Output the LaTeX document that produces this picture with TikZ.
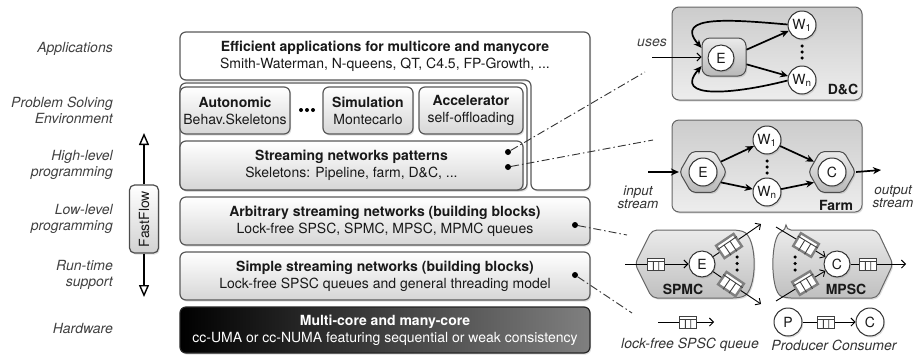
\documentclass[tikz,border=0pt]{standalone}
\usepackage{fontspec}
\setmainfont{TeX Gyre Heros}
\usetikzlibrary{arrows.meta,shapes.geometric,shadows,calc}
\newcommand\qlines[1]{%
  \draw[qline] ($(#1.north west)!0.3!(#1.south west)$) -- ($(#1.north east)!0.3!(#1.south east)$);
  \foreach \f in {0.35,0.65}{%
    \draw[qline] ($($(#1.north west)!\f!(#1.north east)$)!0.3!($(#1.south west)!\f!(#1.south east)$)$) -- ($(#1.south west)!\f!(#1.south east)$);}%
}
\tikzset{
 shad/.style={drop shadow={opacity=0.25,shadow xshift=1.2pt,shadow yshift=-1.6pt}},
 outerbox/.style={draw=black!65, line width=1.2pt, fill=white, rounded corners=6pt, shad},
 layerbox/.style={draw=black!65, line width=1.2pt, rounded corners=6pt, top color=white, bottom color=black!16, align=center, inner xsep=1pt, shad},
 hwbox/.style={draw=black!85, line width=1.2pt, rounded corners=6pt, left color=black, right color=black!50, text=white, align=center, shad},
 txt/.style={align=center},
 sidelab/.style={font=\itshape\fontsize{14}{16}\selectfont, text=black!75, align=right, anchor=east, inner sep=0pt},
 itlab/.style={font=\itshape\fontsize{13.5}{13}\selectfont, text=black!80, align=center},
 boldlab/.style={font=\bfseries\fontsize{14}{17}\selectfont},
 ffbox/.style={draw=black!70, line width=1.2pt, rounded corners=5pt, top color=white, bottom color=black!18, minimum width=68pt, minimum height=29pt, inner sep=0pt, shad},
 ffarrow/.style={line width=1.5pt, -{Triangle[open, length=12pt, width=10pt, line width=1.4pt]}},
 panel/.style={draw=black!60, line width=1pt, rounded corners=7pt, top color=black!20, bottom color=black!7, shad},
 circ/.style={circle, draw=black!80, line width=1pt, fill=white, minimum size=28pt, inner sep=0pt, font=\fontsize{14}{14}\selectfont, shad},
 hexa/.style={regular polygon, regular polygon sides=6, minimum size=47pt, inner sep=0pt, draw=black!70, line width=1pt, rounded corners=4pt, top color=black!8, bottom color=black!28, shad},
 rbox/.style={draw=black!70, line width=1pt, rounded corners=8pt, minimum width=44pt, minimum height=38pt, top color=black!8, bottom color=black!28, shad},
 tarrow/.style={line width=1.7pt, -{Stealth[length=8pt,width=7pt,inset=2.5pt]}},
 narrow/.style={line width=0.9pt, -{Straight Barb[length=4pt,width=8pt]}},
 nline/.style={line width=0.9pt},
 queue/.style={draw=black!75, line width=1pt, fill=white, minimum width=17pt, minimum height=12pt, inner sep=0pt},
 qrot/.style={queue, draw=black!50, line width=2.4pt, minimum width=21pt, minimum height=15pt},
 qline/.style={black!75, line width=0.9pt},
 bdot/.style={circle, fill=black, inner sep=0pt, minimum size=6pt},
 sdot/.style={circle, fill=black, inner sep=0pt, minimum size=3.5pt},
 dd/.style={line width=0.9pt, black!80, dash pattern=on 8pt off 3pt on 1.5pt off 3pt},
 pshape/.style={draw=black!60, line width=1pt, top color=black!8, bottom color=black!25, rounded corners=5pt, shad},
}
\begin{document}
\begin{tikzpicture}[x=1pt,y=-1pt, every node/.style={font=\fontsize{14}{17}\selectfont, text=black!90}]
\useasboundingbox (0,0) rectangle (917,360);
% left labels
\node[sidelab] (lApp) at (113,49) {Applications};
\node[sidelab] (lPSE) at (113,110) {Problem Solving\\Environment};
\node[sidelab] (lHigh) at (113,165) {High-level\\programming};
\node[sidelab] (lLow) at (113,219) {Low-level\\programming};
\node[sidelab] (lRun) at (113,275) {Run-time\\support};
\node[sidelab] (lHw) at (113,328) {Hardware};
% FastFlow
\node[ffbox, rotate=90] (ff) at (144,219) {FastFlow};
\coordinate (fftop) at (144,133);
\coordinate (ffbot) at (144,297);
\draw[ffarrow] (ff.east) -- (fftop);
\draw[ffarrow] (ff.west) -- (ffbot);
% stack
\draw[outerbox] (180,32) -- (590,32) -- (590,190) -- (531,190) -- (531,80) -- (180,80) -- cycle;
\node[txt] (appT) at (385,56.5) {\textbf{Efficient applications for multicore and manycore}\\Smith-Waterman, N-queens, QT, C4.5, FP-Growth, ...};
\draw[outerbox] (180,83) rectangle (527,190);
\node[layerbox, minimum width=110pt, minimum height=47pt] (auto) at (235,110.5) {\textbf{Autonomic}\\Behav.Skeletons};
\foreach \xx in {301,307,313} \node[sdot, minimum size=4pt] (el\xx) at (\xx,110) {};
\node[layerbox, minimum width=90pt, minimum height=47pt] (sim) at (368,110.5) {\textbf{Simulation}\\Montecarlo};
\node[layerbox, minimum width=104pt, minimum height=47pt] (acc) at (471,110.5) {\textbf{Accelerator}\\self-offloading};
\node[layerbox, minimum width=343pt, minimum height=49pt] (strm) at (351.5,165.5) {\textbf{Streaming networks patterns}\\Skeletons: Pipeline, farm, D\&C, ...};
\node[layerbox, minimum width=410pt, minimum height=48pt] (arb) at (385,221) {\textbf{Arbitrary streaming networks (building blocks)}\\Lock-free SPSC, SPMC, MPSC, MPMC queues};
\node[layerbox, minimum width=410pt, minimum height=48pt] (simple) at (385,276) {\textbf{Simple streaming networks (building blocks)}\\Lock-free SPSC queues and general threading model};
\node[hwbox, minimum width=410pt, minimum height=46pt] (hw) at (385,330) {\textbf{Multi-core and many-core}\\cc-UMA or cc-NUMA featuring sequential or weak consistency};
% D&C
\node[panel, minimum width=190pt, minimum height=93pt] (dc) at (767,53.5) {};
\node[boldlab] (dclab) at (843,89) {D\&C};
\node[rbox] (dE) at (724,57) {};
\node[circ, minimum size=26pt] (dEc) at (721,58) {E};
\node[circ] (dW1) at (802,25) {W\textsubscript{1}};
\node[circ] (dWn) at (802,80) {W\textsubscript{n}};
\foreach \yy in {46,52,58} \node[sdot] (dd\yy) at (802,\yy) {};
\draw[tarrow] (dE.18) -- (dW1);
\draw[tarrow] (dE.-18) -- (dWn);
\draw[tarrow] (dW1.178) .. controls (735,20) and (672,14) .. (dE.158);
\draw[tarrow] (dWn.182) .. controls (735,94) and (672,100) .. (dE.202);
\node[font=\itshape\fontsize{14}{16}\selectfont, text=black!75] (uses) at (652,43) {uses};
\coordinate (usesStart) at (652,57);
\draw[narrow] (usesStart) -- (dE.west);
% Farm
\node[panel, minimum width=190pt, minimum height=92pt] (farm) at (767,166) {};
\node[boldlab] (farmlab) at (836,205) {Farm};
\node[hexa] (fE) at (703,172) {};
\node[circ] (fEc) at (703,172) {E};
\node[circ] (fW1) at (767,140) {W\textsubscript{1}};
\node[circ] (fWn) at (767,192) {W\textsubscript{n}};
\node[hexa] (fC) at (832,172) {};
\node[circ] (fCc) at (832,172) {C};
\foreach \yy in {161,167,173} \node[sdot] (fd\yy) at (767,\yy) {};
\draw[tarrow] (fE.30) -- (fW1);
\draw[tarrow] (fE.-30) -- (fWn);
\draw[tarrow] (fW1) -- (fC.150);
\draw[tarrow] (fWn) -- (fC.210);
\coordinate (inS) at (648,172);
\coordinate (outS) at (881,170);
\draw[tarrow] (inS) -- (fE.west);
\draw[tarrow] (fC.east) -- (outS);
\node[itlab] (inlab) at (638,197) {input\\stream};
\node[itlab] (outlab) at (893,197) {output\\stream};
% SPMC
\draw[pshape] (635,264) -- (652,230) -- (738,230) .. controls (758,236) and (758,292) .. (738,298) -- (652,298) -- cycle;
\node[boldlab] (spmclab) at (683,289) {SPMC};
\coordinate (sIn) at (625,264);
\node[queue] (sQ) at (656,264) {};
\node[circ, minimum size=26pt] (sE) at (702,264) {E};
\coordinate (sOutU) at (761,224);
\coordinate (sOutD) at (761,304);
\node[qrot, rotate=34] (sQU) at (729,246) {};
\node[qrot, rotate=-34] (sQD) at (731,284) {};
\draw[nline] (sIn) -- (sQ);
\draw[narrow] (sQ) -- (sE);
\draw[nline] (sE) -- (sQU);
\draw[narrow] (sQU) -- (sOutU);
\draw[nline] (sE) -- (sQD);
\draw[narrow] (sQD) -- (sOutD);
\foreach \yy in {257,263.5,270} \node[sdot] (sd\yy) at (737,\yy) {};
% MPSC
\draw[pshape] (786,230) -- (877,230) -- (893,264) -- (877,298) -- (786,298) .. controls (770,292) and (770,236) .. (786,230) -- cycle;
\node[boldlab] (mpsclab) at (846,289) {MPSC};
\node[circ, minimum size=26pt] (mC) at (837,264) {C};
\coordinate (mInU) at (776,227);
\coordinate (mInD) at (776,301);
\node[qrot, rotate=-31] (mQU) at (806,245) {};
\node[qrot, rotate=31] (mQD) at (805,283) {};
\node[queue] (mQ) at (868,264) {};
\coordinate (mOut) at (906,264);
\draw[nline] (mInU) -- (mQU);
\draw[narrow] (mQU) -- (mC);
\draw[nline] (mInD) -- (mQD);
\draw[narrow] (mQD) -- (mC);
\draw[nline] (mC) -- (mQ);
\draw[narrow] (mQ) -- (mOut);
\foreach \yy in {257,263.5,270} \node[sdot] (md\yy) at (795,\yy) {};
% bottom
\coordinate (bIn) at (658,322);
\node[queue] (bQ) at (688,322) {};
\coordinate (bOut) at (714,322);
\draw[nline] (bIn) -- (bQ);
\draw[narrow] (bQ) -- (bOut);
\node[circ] (pP) at (788,322) {P};
\node[queue] (pQ) at (826,322) {};
\node[circ] (pC) at (870,322) {C};
\draw[nline] (pP) -- (pQ);
\draw[narrow] (pQ) -- (pC);
\node[itlab, font=\itshape\fontsize{14}{16}\selectfont] (lfq) at (690,345) {lock-free SPSC queue};
\node[itlab, font=\itshape\fontsize{14}{16}\selectfont] (pcl) at (834,345) {Producer Consumer};
\foreach \q in {sQ,sQU,sQD,mQU,mQD,mQ,bQ,pQ} {\qlines{\q}}
% dash-dot connectors
\node[bdot] (p1) at (508,152) {};
\node[bdot] (p2) at (508,167) {};
\node[bdot] (p3) at (575,225) {};
\node[bdot] (p4) at (575,275) {};
\coordinate (e1) at (645,72);
\coordinate (e2) at (653,140);
\coordinate (e3) at (627,235);
\coordinate (e4) at (632,313);
\draw[dd] (p1) -- (e1);
\draw[dd] (p2) -- (e2);
\draw[dd] (p3) -- (e3);
\draw[dd] (p4) -- (e4);
\end{tikzpicture}
\end{document}
